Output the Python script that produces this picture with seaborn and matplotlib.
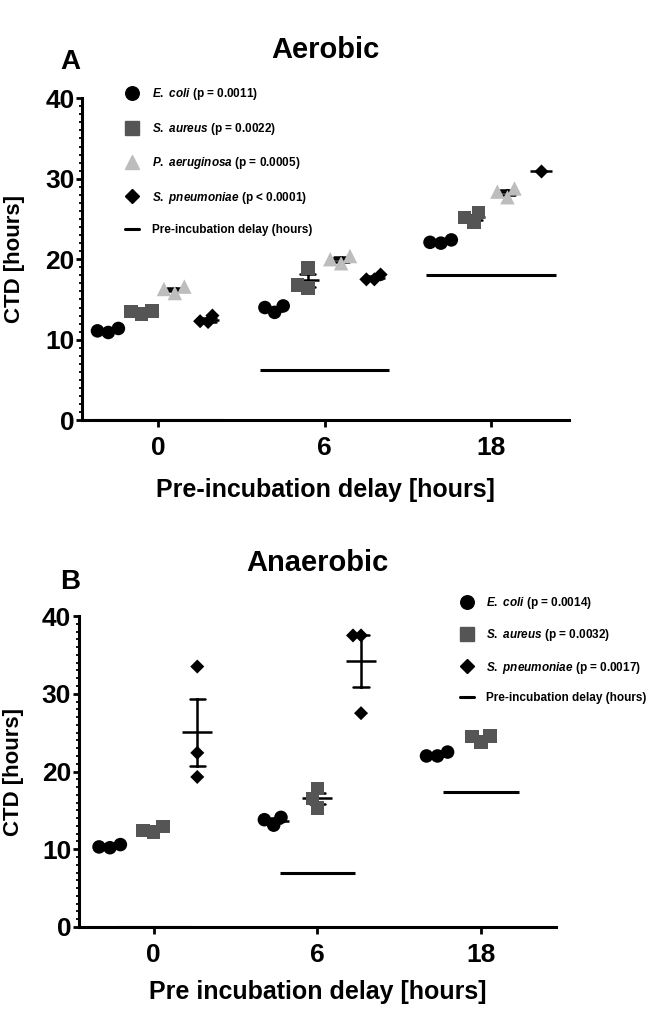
import pandas as pd
import seaborn as sns
import matplotlib.pyplot as plt
from matplotlib.lines import Line2D
from matplotlib.ticker import MultipleLocator
from matplotlib.transforms import Affine2D

delays = ['0', '6', '18']

# Aerobe (A) : CTD en heures, 3 réplicats par délai
species_a = ['E. coli', 'S. aureus', 'P. aeruginosa', 'S. pneumoniae']
pvals_a = ['(p = 0.0011)', '(p = 0.0022)', '(p = 0.0005)', '(p < 0.0001)']
ecoli_a = [[10.9, 11.4, 11.1], [13.4, 14.2, 14.0], [22.0, 22.4, 22.1]]
saureus_a = [[13.2, 13.6, 13.5], [18.9, 16.4, 16.8], [24.6, 25.8, 25.2]]
paerug_a = [[15.8, 16.6, 16.3], [19.5, 20.4, 20.0], [27.7, 28.8, 28.4]]
spneu_a = [[12.3, 13.0, 12.2], [17.5, 18.1, 17.5], [31.0]]
delay_line_a = [0, 6.2, 18.0]

# Anaerobe (B)
species_b = ['E. coli', 'S. aureus', 'S. pneumoniae']
pvals_b = ['(p = 0.0014)', '(p = 0.0032)', '(p = 0.0017)']
ecoli_b = [[10.2, 10.6, 10.3], [13.1, 14.1, 13.8], [22.0, 22.5, 22.0]]
saureus_b = [[12.2, 12.9, 12.4], [17.8, 15.3, 16.5], [23.8, 24.5, 24.6]]
spneu_b = [[33.5, 22.4, 19.3], [37.5, 37.5, 27.5], []]
delay_line_b = [0, 6.9, 17.3]

styles = {
    'E. coli': dict(marker='o', color='black', size=7.5),
    'S. aureus': dict(marker='s', color='#555555', size=7.5),
    'P. aeruginosa': dict(marker='^', color='#bdbdbd', size=8),
    'S. pneumoniae': dict(marker='D', color='black', size=5.5),
}
grow = 1.3  # les points se chevauchent comme dans GraphPad

sns.set_style('ticks')
plt.rcParams['font.family'] = ['Liberation Sans', 'DejaVu Sans']
plt.rcParams['font.weight'] = 'bold'
plt.rcParams['axes.labelweight'] = 'bold'
plt.rcParams['text.color'] = 'black'
plt.rcParams['axes.labelcolor'] = 'black'
plt.rcParams['axes.edgecolor'] = 'black'
plt.rcParams['xtick.color'] = 'black'
plt.rcParams['ytick.color'] = 'black'
plt.rcParams['mathtext.fontset'] = 'custom'
plt.rcParams['mathtext.it'] = 'Liberation Sans:italic:bold'
plt.rcParams['mathtext.rm'] = 'Liberation Sans:bold'


def to_frame(species, series):
    rows = []
    for sp, vals in zip(species, series):
        for d, reps in zip(delays, vals):
            for v in reps:
                rows.append((sp, d, v))
    return pd.DataFrame(rows, columns=['species', 'delay', 'ctd'])


def draw_panel(ax, df, species, pvals, delay_line, mean_w, cap, line_half,
               anchor, spacing, textpad):
    n = len(species)
    # moyenne +/- SEM
    sns.pointplot(data=df, x='delay', y='ctd', hue='species', order=delays,
                  hue_order=species, palette={s: 'black' for s in species},
                  errorbar='se', dodge=0.8 - 0.8 / n, markers='_',
                  linestyles='none', markersize=mean_w, markeredgewidth=1.8,
                  capsize=cap, err_kws={'linewidth': 1.8}, legend=False, ax=ax)
    for sp in species:
        st = styles[sp]
        n0 = len(ax.collections)
        sns.swarmplot(data=df[df.species == sp], x='delay', y='ctd', hue='species',
                      order=delays, hue_order=species,
                      palette={s: st['color'] for s in species}, dodge=True,
                      marker=st['marker'], size=st['size'], linewidth=0,
                      legend=False, zorder=3, warn_thresh=1, ax=ax)
        for coll in ax.collections[n0:]:
            coll.set_paths([p.transformed(Affine2D().scale(grow)) for p in coll.get_paths()])
    for i, v in enumerate(delay_line):
        ax.hlines(v, i - line_half, i + line_half, color='black', linewidth=2.2)

    handles = [Line2D([], [], marker=styles[s]['marker'], color=styles[s]['color'],
                      linestyle='none', markersize=styles[s]['size'] * grow)
               for s in species]
    handles.append(Line2D([], [], color='black', linewidth=2.2))
    labels = []
    for s, p in zip(species, pvals):
        name = s.replace(' ', r'\ ')
        labels.append(r'$\mathit{' + name + '}$ ' + p)
    labels.append('Pre-incubation delay (hours)')
    ax.legend(handles, labels, loc='upper left', bbox_to_anchor=anchor,
              frameon=False, borderaxespad=0, borderpad=0, fontsize=8.5,
              handlelength=1.2, handletextpad=textpad, labelspacing=spacing)

    ax.set_ylim(0, 40)
    ax.yaxis.set_major_locator(MultipleLocator(10))
    ax.yaxis.set_minor_locator(MultipleLocator(1))
    ax.tick_params(axis='y', which='major', length=4, width=2, pad=1.5, labelsize=19)
    ax.tick_params(axis='y', which='minor', length=2.5, width=1.3)
    ax.tick_params(axis='x', length=5, width=2, pad=6.5, labelsize=19)
    for s in ['left', 'bottom']:
        ax.spines[s].set_linewidth(2.2)
    sns.despine(ax=ax)
    ax.set_ylabel('CTD [hours]', fontsize=16)


fig = plt.figure(figsize=(6.51, 10.15), dpi=100)
ax_a = fig.add_axes([0.126, 0.586, 0.748, 0.3172])
ax_b = fig.add_axes([0.121, 0.0867, 0.733, 0.3064])

df_a = to_frame(species_a, [ecoli_a, saureus_a, paerug_a, spneu_a])
df_b = to_frame(species_b, [ecoli_b, saureus_b, spneu_b])

draw_panel(ax_a, df_a, species_a, pvals_a, delay_line_a, mean_w=16.5, cap=0.09,
           line_half=0.39, anchor=(0.088, 1.037), spacing=1.56, textpad=1.1)
draw_panel(ax_b, df_b, species_b, pvals_b, delay_line_b, mean_w=21.5, cap=0.092,
           line_half=0.23, anchor=(0.799, 1.067), spacing=1.37, textpad=1.0)

ax_a.set_xlim(-0.458, 2.47)
ax_b.set_xlim(-0.457, 2.457)

ax_a.set_xlabel('Pre-incubation delay [hours]', fontsize=18)
ax_b.set_xlabel('Pre incubation delay [hours]', fontsize=18)
ax_a.xaxis.set_label_coords(0.5, -0.178)
ax_b.xaxis.set_label_coords(0.5, -0.172)
ax_a.yaxis.set_label_coords(-0.118, 0.5)
ax_b.yaxis.set_label_coords(-0.114, 0.5)

ax_a.text(0.5, 1.149, 'Aerobic', transform=ax_a.transAxes, ha='center',
          va='center', fontsize=21, fontweight='bold')
ax_a.text(-0.025, 1.112, 'A', transform=ax_a.transAxes, ha='center',
          va='center', fontsize=20, fontweight='bold')
ax_b.text(0.5, 1.170, 'Anaerobic', transform=ax_b.transAxes, ha='center',
          va='center', fontsize=21, fontweight='bold')
ax_b.text(-0.019, 1.109, 'B', transform=ax_b.transAxes, ha='center',
          va='center', fontsize=20, fontweight='bold')

fig.savefig('out.png', dpi=100)
